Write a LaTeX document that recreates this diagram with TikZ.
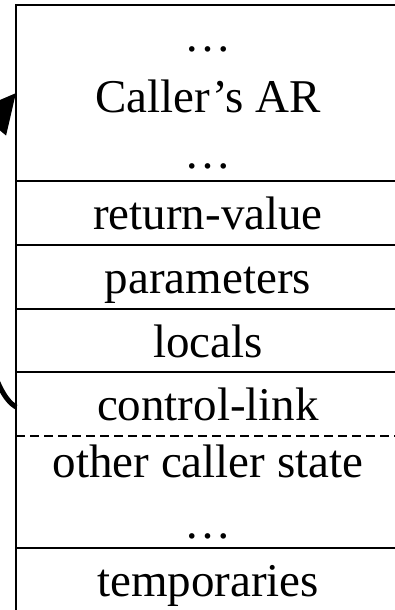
\documentclass[tikz,border=0pt]{standalone}
\usepackage{fontspec}
\setmainfont{Liberation Serif}
\usetikzlibrary{arrows.meta}
\begin{document}
\begin{tikzpicture}[x=1pt,y=-1pt,
  rowline/.style={line width=2.5pt},
  dashline/.style={line width=2pt,dash pattern=on 9pt off 5pt},
  lbl/.style={anchor=base,inner sep=0pt,font=\fontsize{47}{56}\selectfont},
  link/.style={line width=5pt,-{Triangle[length=39pt,width=38pt]}}]
\useasboundingbox (0,0) rectangle (395,610);
\draw[rowline] (402,5) -- (16,5) -- (16,640);
\foreach \y in {181,245,309,372,548} \draw[rowline] (16,\y) -- (402,\y);
\draw[dashline] (16,436) -- (402,436);
\node[lbl] (d1) at (208,52) {…};
\node[lbl] (car) at (208,112) {Caller’s AR};
\node[lbl] (d2) at (208,168) {…};
\node[lbl] (rv) at (208,229) {return-value};
\node[lbl] (par) at (208,293) {parameters};
\node[lbl] (loc) at (208,357) {locals};
\node[lbl] (cl) at (208,420) {control-link};
\node[lbl] (ocs) at (208,477) {other caller state};
\node[lbl] (d3) at (208,538) {…};
\node[lbl] (tmp) at (208,596) {temporaries};
\coordinate (src) at (16,407);
\coordinate (dst) at (16,93);
\draw[link] (src) .. controls (-30,380) and (-35,154) .. (dst);
\end{tikzpicture}
\end{document}
